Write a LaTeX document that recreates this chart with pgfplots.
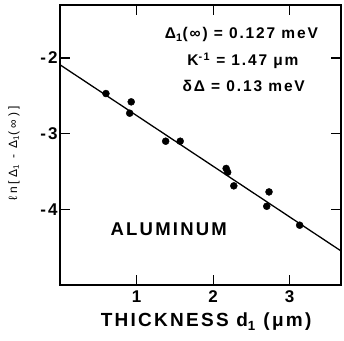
\documentclass[border=0pt]{standalone}
\usepackage{fontspec}
\setmainfont{Liberation Sans}
\newfontfamily\lett[LetterSpace=12]{Liberation Sans}
\newfontfamily\lettwide[LetterSpace=25]{Liberation Sans}
\usepackage{pgfplots}
\pgfplotsset{compat=1.18}
\begin{document}
\begin{tikzpicture}
\begin{axis}[
 scale only axis, width=281pt, height=280pt,
 xmin=0, xmax=3.67, ymin=-5, ymax=-1.3,
 xtick={1,2,3}, ytick={-4,-3,-2},
 xticklabels={1,2,3}, yticklabels={-4,-3,-2},
 tick align=inside, tick pos=both, major tick length=10pt,
 axis line style={line width=1.6pt},
 every tick/.style={black, line width=1.2pt},
 ticklabel style={font=\lett\bfseries\fontsize{17}{17}\selectfont},
 xticklabel style={yshift=-2pt},
 yticklabel style={xshift=1pt},
 xlabel={THICKNESS d\textsubscript{1} (μm)},
 xlabel style={at={(axis description cs:0.52,0)}, anchor=center, yshift=-37pt, font=\lett\bfseries\fontsize{19}{19}\selectfont},
]
\coordinate (sw) at (rel axis cs:0,0);
\coordinate (ne) at (rel axis cs:1,1);
\coordinate (ml) at (rel axis cs:0,0.47);
\addplot[black, line width=1.3pt] coordinates {(0,-2.09) (3.67,-4.55)};
\addplot[only marks, mark=*, mark size=3.5pt, black] coordinates {
(0.60,-2.47) (0.93,-2.58) (0.91,-2.73) (1.38,-3.10) (1.57,-3.10)
(2.17,-3.46) (2.19,-3.51) (2.27,-3.69) (2.73,-3.77) (2.70,-3.96) (3.13,-4.21)};
\node[font=\lett\bfseries\fontsize{15.5}{15.5}\selectfont] at (axis cs:2.37,-1.69) {Δ\textsubscript{1}(∞) = 0.127 meV};
\node[font=\lett\bfseries\fontsize{15.5}{15.5}\selectfont] at (axis cs:2.39,-2.04) {K\textsuperscript{-1} = 1.47 μm};
\node[font=\lett\bfseries\fontsize{15.5}{15.5}\selectfont] at (axis cs:2.40,-2.37) {δΔ = 0.13 meV};
\node[font=\lett\bfseries\fontsize{18.5}{18.5}\selectfont] at (axis cs:1.42,-4.26) {ALUMINUM};
\end{axis}
\node[rotate=90, font=\lettwide\fontsize{12}{12}\selectfont] at ([xshift=-46pt]ml) {ℓn[Δ\textsubscript{1} - Δ\textsubscript{1}(∞)]};
\pgfresetboundingbox
\path[use as bounding box] ([shift={(-60pt,-56pt)}]sw) rectangle ([shift={(3pt,5pt)}]ne);
\end{tikzpicture}
\end{document}
